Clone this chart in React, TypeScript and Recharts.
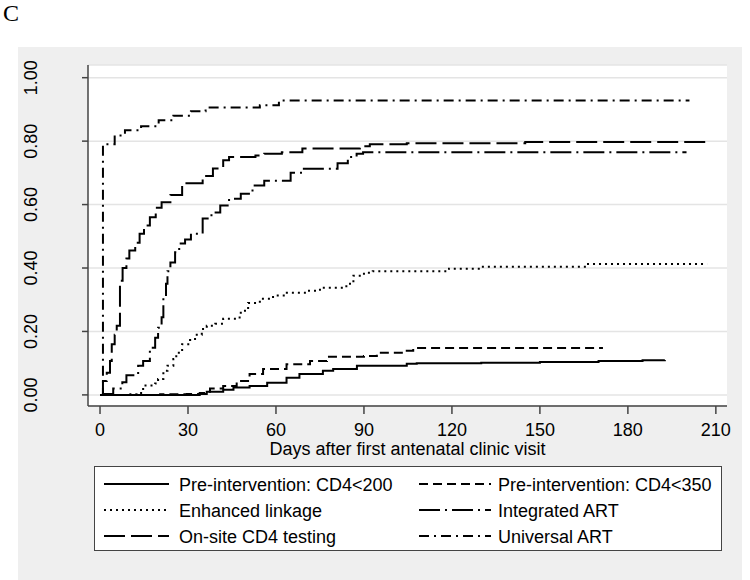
import React from "react";
import { LineChart, Line, XAxis, YAxis, CartesianGrid } from "recharts";

const FONT = "'Liberation Sans', Arial, sans-serif";

const xTicks = [0, 30, 60, 90, 120, 150, 180, 210];
const yTicks = [0, 0.2, 0.4, 0.6, 0.8, 1.0];

const cd4200Days = [0, 34, 36.4, 42, 45.5, 51, 57, 63.6, 68, 76, 79.5, 87.6, 104.6, 108, 130, 150, 170, 185, 192.6];
const cd4200Vals = [0, 0.003, 0.01, 0.016, 0.023, 0.028, 0.038, 0.054, 0.066, 0.076, 0.082, 0.092, 0.098, 0.1, 0.101, 0.104, 0.107, 0.109, 0.11];

const cd4350Days = [0, 20.5, 29.6, 34, 37.5, 42, 46.6, 51, 55.6, 63.6, 71.6, 77.4, 90, 94.4, 104.6, 106.8, 171.5];
const cd4350Vals = [0, 0.002, 0.003, 0.006, 0.02, 0.028, 0.044, 0.066, 0.082, 0.097, 0.107, 0.12, 0.123, 0.133, 0.139, 0.148, 0.148];

const linkageDays = [0, 9, 12.5, 14.7, 18.8, 19.8, 21.6, 23, 25, 26, 28, 30.7, 32.4, 34.7, 36.4, 39.3, 42, 46.6, 48, 50.5, 54.5, 59, 63.7, 70.5, 75, 84, 86.4, 90, 93, 119, 129.5, 166, 207];
const linkageVals = [0, 0.002, 0.006, 0.03, 0.036, 0.05, 0.076, 0.092, 0.113, 0.133, 0.16, 0.173, 0.19, 0.208, 0.218, 0.224, 0.24, 0.244, 0.265, 0.29, 0.303, 0.313, 0.322, 0.328, 0.338, 0.35, 0.376, 0.385, 0.39, 0.398, 0.404, 0.413, 0.413];

const integratedDays = [0, 1, 4.5, 7.6, 9, 13, 14.7, 17, 18.8, 19.8, 21, 21.6, 22.5, 23, 24, 25.6, 27, 29, 31, 35, 38, 41, 44, 48, 52, 56, 65, 69, 77, 81, 84.5, 87.5, 89.7, 200];
const integratedVals = [0, 0.003, 0.02, 0.04, 0.062, 0.092, 0.107, 0.149, 0.18, 0.212, 0.245, 0.307, 0.35, 0.39, 0.417, 0.45, 0.477, 0.49, 0.508, 0.556, 0.575, 0.597, 0.618, 0.634, 0.66, 0.675, 0.7, 0.713, 0.713, 0.73, 0.75, 0.76, 0.765, 0.765];

const onsiteDays = [0, 1, 2.3, 3.4, 4, 5, 5.7, 6.8, 7.7, 9, 10, 12, 13.5, 15, 17, 19, 21, 24, 28, 35, 38.5, 42, 44, 53, 56, 62, 69, 82, 88.6, 92, 104.6, 145, 207];
const onsiteVals = [0, 0.044, 0.07, 0.107, 0.16, 0.19, 0.218, 0.36, 0.4, 0.43, 0.455, 0.48, 0.508, 0.534, 0.56, 0.59, 0.607, 0.63, 0.667, 0.69, 0.714, 0.74, 0.75, 0.755, 0.76, 0.765, 0.777, 0.777, 0.784, 0.79, 0.793, 0.797, 0.797];

const universalDays = [0, 1, 5, 8.5, 14, 20, 25, 31, 36, 54.5, 61, 201];
const universalVals = [0, 0.79, 0.818, 0.834, 0.847, 0.866, 0.88, 0.894, 0.906, 0.913, 0.928, 0.928];

const toPoints = (days: number[], vals: number[]) => days.map((x, i) => ({ x, y: vals[i] }));

const series = [
  { name: "Pre-intervention: CD4<200", data: toPoints(cd4200Days, cd4200Vals), dash: undefined },
  { name: "Pre-intervention: CD4<350", data: toPoints(cd4350Days, cd4350Vals), dash: "9 5" },
  { name: "Enhanced linkage", data: toPoints(linkageDays, linkageVals), dash: "2 4" },
  { name: "Integrated ART", data: toPoints(integratedDays, integratedVals), dash: "21 5 2 5" },
  { name: "On-site CD4 testing", data: toPoints(onsiteDays, onsiteVals), dash: "21 6" },
  { name: "Universal ART", data: toPoints(universalDays, universalVals), dash: "10 5 2 5" },
];

const YTick = (props: any) => {
  const { y, payload } = props;
  return (
    <text
      x={37}
      y={y}
      transform={`rotate(-90 37 ${y})`}
      textAnchor="middle"
      fontSize={18}
      fontFamily={FONT}
      fill="#000"
    >
      {Number(payload.value).toFixed(2)}
    </text>
  );
};

function LegendBox() {
  const rows = [0, 1, 2];
  const cols = [
    { lineX: 9, lineW: 65, textX: 84 },
    { lineX: 324, lineW: 72, textX: 403 },
  ];
  const rowY = [17, 43, 69];
  return (
    <div
      style={{
        position: "absolute",
        left: 94,
        top: 466,
        width: 628,
        height: 85,
        boxSizing: "border-box",
        border: "1px solid #444",
        background: "#fff",
      }}
    >
      <svg width={626} height={83} style={{ position: "absolute", left: 0, top: 0 }}>
        {rows.map((r) =>
          cols.map((c, ci) => {
            const s = series[r * 2 + ci];
            return (
              <g key={s.name}>
                <line
                  x1={c.lineX}
                  x2={c.lineX + c.lineW}
                  y1={rowY[r]}
                  y2={rowY[r]}
                  stroke="#000"
                  strokeWidth={2}
                  strokeDasharray={s.dash}
                />
                <text x={c.textX} y={rowY[r] + 6.5} fontSize={18} fontFamily={FONT} fill="#000">
                  {s.name}
                </text>
              </g>
            );
          })
        )}
      </svg>
    </div>
  );
}

export default function App() {
  return (
    <div style={{ position: "absolute", left: 0, top: 0, width: 750, height: 580, background: "#fff", overflow: "hidden" }}>
      <div style={{ position: "absolute", left: 3, top: 0, fontFamily: "'Liberation Serif', 'Times New Roman', serif", fontSize: 24 }}>C</div>
      <div style={{ position: "absolute", left: 18, top: 47, width: 724, height: 533, background: "#efefef" }} />
      <div style={{ position: "absolute", left: 0, top: 0 }}>
        <LineChart width={750} height={580} margin={{ top: 65, right: 23, bottom: 138, left: 0 }}>
          <CartesianGrid vertical={false} fill="#fff" stroke="#e4e4e4" strokeWidth={1.5} />
          <XAxis
            type="number"
            dataKey="x"
            domain={[-4.1, 213.8]}
            ticks={xTicks}
            allowDataOverflow
            height={36}
            tickSize={8}
            tickMargin={9}
            stroke="#444"
            strokeWidth={1.5}
            tick={{ fill: "#000", fontSize: 18, fontFamily: FONT }}
            label={{
              value: "Days after first antenatal clinic visit",
              position: "bottom",
              offset: 0,
              fill: "#000",
              fontSize: 18,
              fontFamily: FONT,
            }}
          />
          <YAxis
            type="number"
            dataKey="y"
            domain={[-0.035, 1.04]}
            ticks={yTicks}
            allowDataOverflow
            width={88}
            tickSize={6}
            stroke="#444"
            strokeWidth={1.5}
            tick={<YTick />}
          />
          {series.map((s) => (
            <Line
              key={s.name}
              data={s.data}
              dataKey="y"
              type="stepAfter"
              stroke="#000"
              strokeWidth={2}
              strokeDasharray={s.dash}
              dot={false}
              activeDot={false}
              isAnimationActive={false}
            />
          ))}
        </LineChart>
      </div>
      <LegendBox />
    </div>
  );
}
